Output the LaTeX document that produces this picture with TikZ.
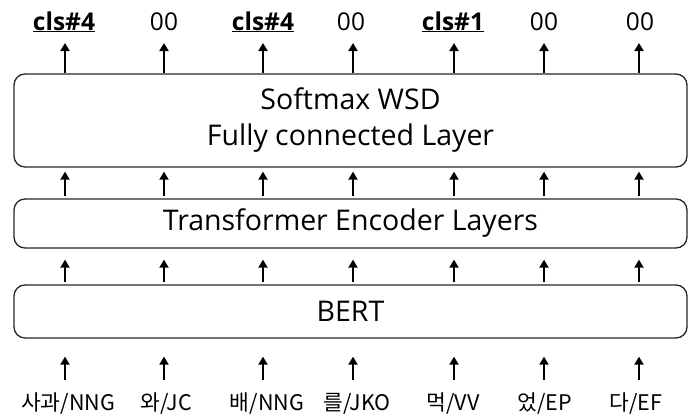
\documentclass[tikz,border=0pt]{standalone}
\usepackage{fontspec}
\setmainfont{Open Sans}
\newfontfamily\krfont{Noto Sans CJK KR}
\usetikzlibrary{arrows.meta}
\begin{document}
\begin{tikzpicture}[x=1pt,y=-1pt,
  layerbox/.style={draw=black!85, line width=1.3pt, rounded corners=11pt,
    minimum width=673pt, inner sep=0pt, font=\fontsize{28.5}{36}\selectfont, align=center},
  outlabel/.style={anchor=base, inner sep=0pt, font=\fontsize{24.5}{28}\selectfont},
  inlabel/.style={anchor=base, inner sep=0pt, font=\krfont\fontsize{21.5}{26}\selectfont},
  uparrow/.style={-{Triangle[length=8pt,width=9pt]}, line width=1.8pt, black}]
\useasboundingbox (0,0) rectangle (696,415);

% column positions of the token arrows
\foreach \i/\x in {1/65,2/164,3/263,4/353,5/454,6/544,7/639}
  \coordinate (c\i) at (\x,0);

% stacked layers
\node[layerbox, minimum height=93pt] (sm) at (350.5,120.5) {Softmax WSD\\Fully connected Layer};
\node[layerbox, minimum height=49pt] (tr) at (350.5,223.5) {Transformer Encoder Layers};
\node[layerbox, minimum height=53pt] (bert) at (350.5,311.5) {BERT};

% output senses
\node[outlabel] (o1) at (64,30)  {\underline{\textbf{cls\#4}}};
\node[outlabel] (o2) at (164,30) {00};
\node[outlabel] (o3) at (263,30) {\underline{\textbf{cls\#4}}};
\node[outlabel] (o4) at (351,30) {00};
\node[outlabel] (o5) at (453,30) {\underline{\textbf{cls\#1}}};
\node[outlabel] (o6) at (544,30) {00};
\node[outlabel] (o7) at (640,30) {00};

% input morphemes
\node[inlabel] (w1) at (68,410)  {사과/NNG};
\node[inlabel] (w2) at (166,410) {와/JC};
\node[inlabel] (w3) at (267,410) {배/NNG};
\node[inlabel] (w4) at (357,410) {를/JKO};
\node[inlabel] (w5) at (453,410) {먹/VV};
\node[inlabel] (w6) at (545,410) {었/EP};
\node[inlabel] (w7) at (636,410) {다/EF};

\foreach \i in {1,...,7}{
  \draw[uparrow] (sm.north -| c\i) -- ([yshift=-13pt]o\i.base -| c\i);
  \draw[uparrow, shorten <=2pt, shorten >=4pt] (tr.north -| c\i) -- (sm.south -| c\i);
  \draw[uparrow, shorten <=2pt, shorten >=11pt] (bert.north -| c\i) -- (tr.south -| c\i);
  \draw[uparrow, shorten >=18pt] ([yshift=30pt]w\i.base -| c\i) -- (bert.south -| c\i);
}
\end{tikzpicture}
\end{document}
